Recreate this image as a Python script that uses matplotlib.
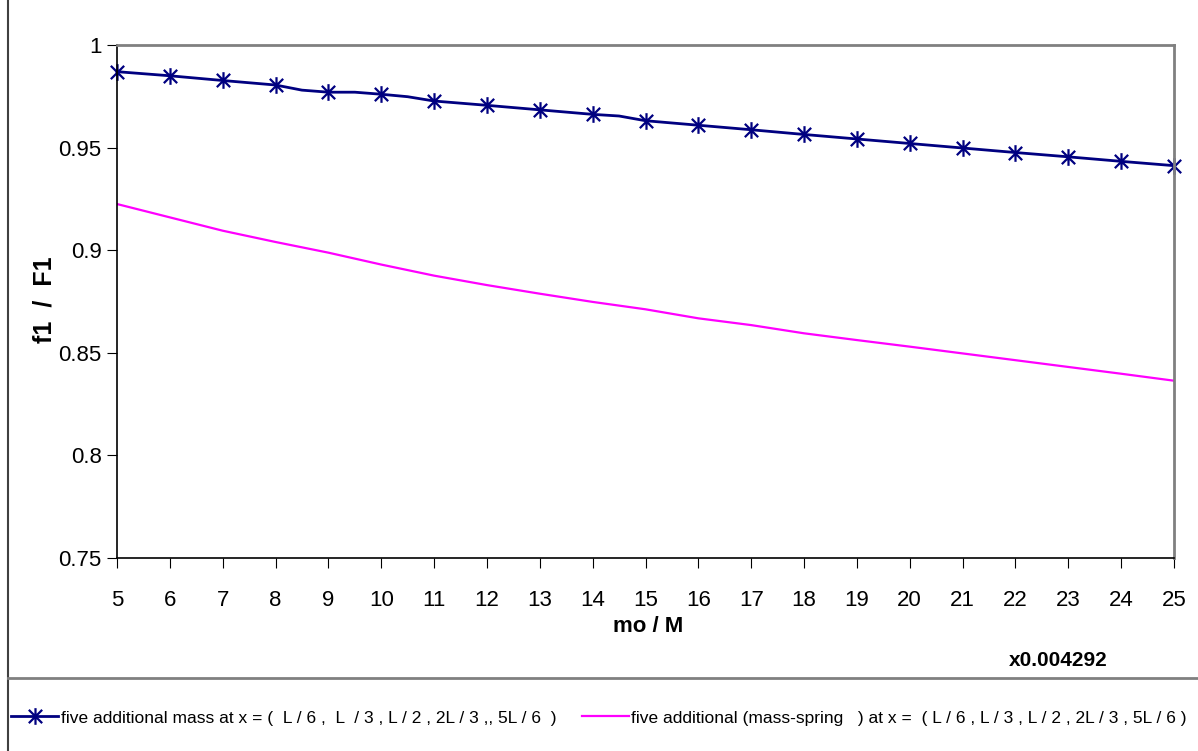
import numpy as np
import matplotlib
matplotlib.use("Agg")
import matplotlib.pyplot as plt
from matplotlib.path import Path
from matplotlib.lines import Line2D

plt.rcParams['font.family'] = ['Liberation Sans', 'DejaVu Sans']

# blue series (line has a few extra kink points between markers)
mass_x = [5, 6, 7, 8, 8.5, 9, 9.5, 10, 10.5, 11, 12, 13, 14, 14.5, 15,
          16, 17, 18, 19, 20, 21, 22, 23, 24, 25]
mass_y = [0.987, 0.985, 0.9827, 0.9805, 0.978, 0.977, 0.977, 0.976, 0.9748,
          0.9727, 0.9706, 0.9684, 0.9662, 0.9654, 0.9631, 0.9609, 0.9587,
          0.9564, 0.9542, 0.9520, 0.9498, 0.9476, 0.9455, 0.9433, 0.9412]
mass_markers = [5, 6, 7, 8, 9, 10, 11, 12, 13, 14, 15, 16, 17, 18, 19, 20,
                21, 22, 23, 24, 25]

spring_x = [5, 6, 7, 8, 9, 10, 11, 12, 13, 14, 15, 16, 17, 18, 19, 20, 21,
            22, 23, 24, 25]
spring_y = [0.9225, 0.916, 0.9095, 0.904, 0.8988, 0.893, 0.8876, 0.883,
            0.8788, 0.8748, 0.8712, 0.8668, 0.8635, 0.8595, 0.8562, 0.853,
            0.8497, 0.8464, 0.8431, 0.8398, 0.8364]

yticks = [0.75, 0.8, 0.85, 0.9, 0.95, 1]
ytick_labels = ["0.75", "0.8", "0.85", "0.9", "0.95", "1"]

label_mass = "five additional mass at x = (  L / 6 ,  L  / 3 , L / 2 , 2L / 3 ,, 5L / 6  )"
label_spring = "five additional (mass-spring   ) at x =  ( L / 6 , L / 3 , L / 2 , 2L / 3 , 5L / 6 )"

# excel style star marker: vertical bar + x
star = Path([(0, -1), (0, 1), (-0.8, -0.8), (0.8, 0.8), (-0.8, 0.8), (0.8, -0.8)],
            [Path.MOVETO, Path.LINETO, Path.MOVETO, Path.LINETO, Path.MOVETO, Path.LINETO])

fig = plt.figure(figsize=(11.98, 7.51), dpi=100)
ax = fig.add_axes([117/1198, 1 - 558/751, (1174-117)/1198, (558-45)/751])

marker_idx = [mass_x.index(v) for v in mass_markers]
ax.plot(mass_x, mass_y, color="#000080", lw=2, marker=star, ms=12,
        mew=1.6, markevery=marker_idx, label=label_mass, clip_on=False)
ax.plot(spring_x, spring_y, color="#FF00FF", lw=1.6, label=label_spring)

ax.set_xlim(5, 25)
ax.set_ylim(0.75, 1)
ax.set_xticks(range(5, 26))
ax.set_yticks(yticks)
ax.set_yticklabels(ytick_labels)
ax.tick_params(axis="y", direction="out", length=7, labelsize=16, pad=4)
ax.tick_params(axis="x", direction="out", length=7, labelsize=16, pad=16)

for s in ["top", "right"]:
    ax.spines[s].set_color("#808080")
    ax.spines[s].set_linewidth(2)
ax.spines["left"].set_linewidth(1.2)
ax.spines["bottom"].set_linewidth(1.2)

fig.text(45/1198, 1 - 300/751, "f1  /  F1", rotation=90, ha="center", va="center",
         fontsize=18, fontweight="bold")
fig.text(648/1198, 1 - 627/751, "mo / M", ha="center", va="center",
         fontsize=16, fontweight="bold")
fig.text(1058/1198, 1 - 660/751, "x0.004292", ha="center", va="center",
         fontsize=15, fontweight="bold")

# outer frame lines
fig.add_artist(Line2D([8/1198, 8/1198], [0, 1], transform=fig.transFigure,
                      color="#404040", lw=1.5))
fig.add_artist(Line2D([8/1198, 1], [1 - 678/751, 1 - 678/751], transform=fig.transFigure,
                      color="#808080", lw=2))

leg = fig.legend(loc="center left", bbox_to_anchor=(8/1198, 1 - 718/751), ncol=2,
                 frameon=False, handlelength=2.7, handletextpad=0.15, columnspacing=1.45,
                 borderpad=0.1, borderaxespad=0.1, prop={"size": 12.5})

plt.savefig("out.png", dpi=100)
